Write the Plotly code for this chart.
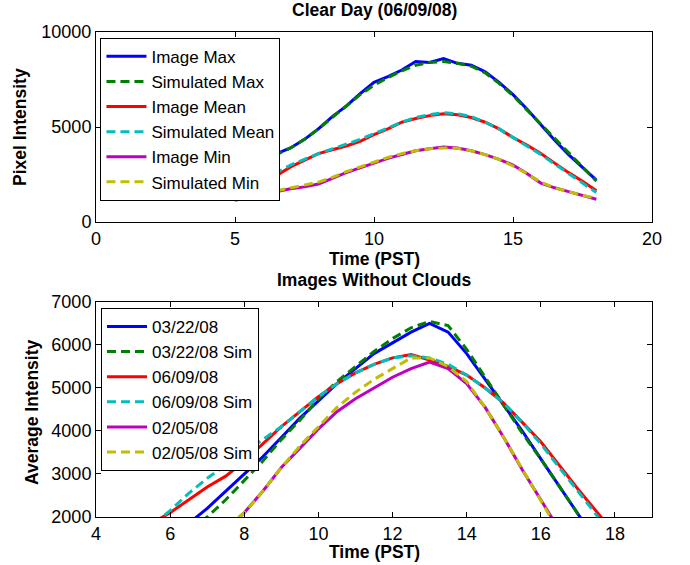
import plotly.graph_objects as go

# ---------- Top chart: Clear Day (06/09/08) ----------
t_top = [5, 5.5, 6, 6.5, 7, 7.5, 8, 8.5, 9, 9.5, 10, 10.5, 11, 11.5, 12, 12.5,
         13, 13.5, 14, 14.5, 15, 15.5, 16, 16.5, 17, 17.5, 18]
img_max = [2700, 3000, 3300, 3600, 3900, 4350, 4900, 5550, 6100, 6750, 7350, 7650,
           8000, 8450, 8400, 8600, 8350, 8250, 7900, 7350, 6700, 5950, 5100, 4300,
           3550, 2900, 2200]
sim_max = [2650, 2950, 3250, 3550, 3900, 4350, 4900, 5500, 6100, 6700, 7200, 7600,
           7950, 8250, 8400, 8450, 8350, 8200, 7850, 7300, 6650, 5900, 5100, 4350,
           3600, 2900, 2150]
img_mean = [1550, 1800, 2100, 2450, 2900, 3250, 3600, 3800, 4000, 4250, 4600, 4900,
            5250, 5450, 5600, 5700, 5650, 5500, 5250, 4900, 4450, 4050, 3600, 3100,
            2600, 2150, 1650]
sim_mean = [1700, 1950, 2250, 2600, 3000, 3300, 3600, 3850, 4100, 4350, 4650, 4950,
            5250, 5500, 5650, 5750, 5700, 5550, 5250, 4900, 4450, 4000, 3550, 3050,
            2550, 2050, 1550]
img_min = [1150, 1300, 1450, 1600, 1750, 1850, 2000, 2300, 2600, 2850, 3100, 3350,
           3550, 3750, 3850, 3950, 3900, 3750, 3550, 3300, 3000, 2550, 2050, 1800,
           1600, 1400, 1200]
sim_min = [1300, 1400, 1500, 1650, 1800, 1950, 2100, 2350, 2650, 2900, 3150, 3400,
           3600, 3750, 3850, 3900, 3880, 3750, 3550, 3300, 2950, 2550, 2100, 1800,
           1600, 1400, 1250]
top_xticks = [0, 5, 10, 15, 20]
top_yticks = [0, 5000, 10000]
top_yticklabels = ["0", "5000", "10000"]

# ---------- Bottom chart: Images Without Clouds ----------
t_bot = [5, 5.5, 6, 6.5, 7, 7.5, 8, 8.5, 9, 9.5, 10, 10.5, 11, 11.5, 12, 12.5,
         13, 13.5, 14, 14.5, 15, 15.5, 16, 16.5, 17, 17.5, 18]
d0322 = [900, 1250, 1550, 1850, 2200, 2600, 3000, 3400, 3850, 4300, 4700, 5100,
         5450, 5800, 6050, 6300, 6500, 6300, 5800, 5200, 4600, 4000, 3350, 2700,
         2050, 1400, 800]
d0322_sim = [750, 1100, 1400, 1700, 2000, 2400, 2850, 3300, 3800, 4250, 4750, 5150,
             5500, 5850, 6150, 6400, 6550, 6450, 5900, 5250, 4600, 3950, 3350, 2700,
             2050, 1400, 800]
d0609 = [1450, 1850, 2100, 2400, 2700, 2950, 3300, 3700, 4100, 4450, 4800, 5100,
         5350, 5550, 5700, 5780, 5650, 5500, 5300, 5000, 4650, 4200, 3750, 3200,
         2650, 2130, 1600]
d0609_sim = [1400, 1800, 2150, 2550, 2900, 3200, 3500, 3800, 4100, 4450, 4800, 5100,
             5350, 5550, 5700, 5750, 5700, 5550, 5300, 5000, 4650, 4200, 3700, 3150,
             2600, 2050, 1500]
d0205 = [None, None, None, None, 1300, 1700, 2100, 2600, 3150, 3600, 4050, 4450,
         4750, 5000, 5250, 5450, 5600, 5450, 5100, 4550, 3850, 3100, 2400, 1700,
         1100, None, None]
d0205_sim = [None, None, None, None, 1350, 1750, 2100, 2600, 3150, 3650, 4100, 4550,
             4900, 5200, 5450, 5700, 5700, 5500, 5150, 4550, 3850, 3100, 2350, 1650,
             1050, None, None]
bot_xticks = [4, 6, 8, 10, 12, 14, 16, 18]
bot_yticks = [2000, 3000, 4000, 5000, 6000, 7000]

BLUE, GREEN, RED = "#0000FF", "#008000", "#FF0000"
CYAN, MAG, YEL = "#00BFBF", "#BF00BF", "#BFBF00"
DASH = "9px,5px"
FONT = "Liberation Sans, Arial, sans-serif"

fig = go.Figure()

top = [
    ("Image Max", img_max, BLUE, "solid"),
    ("Simulated Max", sim_max, GREEN, DASH),
    ("Image Mean", img_mean, RED, "solid"),
    ("Simulated Mean", sim_mean, CYAN, DASH),
    ("Image Min", img_min, MAG, "solid"),
    ("Simulated Min", sim_min, YEL, DASH),
]
for name, ys, col, dash in top:
    fig.add_trace(go.Scatter(x=t_top, y=ys, mode="lines", name=name,
                             line=dict(color=col, width=3, dash=dash),
                             xaxis="x", yaxis="y", legend="legend"))

bot = [
    ("03/22/08", d0322, BLUE, "solid"),
    ("03/22/08 Sim", d0322_sim, GREEN, DASH),
    ("06/09/08", d0609, RED, "solid"),
    ("06/09/08 Sim", d0609_sim, CYAN, DASH),
    ("02/05/08", d0205, MAG, "solid"),
    ("02/05/08 Sim", d0205_sim, YEL, DASH),
]
for name, ys, col, dash in bot:
    fig.add_trace(go.Scatter(x=t_bot, y=ys, mode="lines", name=name,
                             line=dict(color=col, width=3, dash=dash),
                             xaxis="x2", yaxis="y2", legend="legend2"))

axis_common = dict(showline=True, linecolor="black", linewidth=1, mirror="ticks",
                   ticks="inside", ticklen=5, tickcolor="black", showgrid=False,
                   zeroline=False, automargin=False,
                   tickfont=dict(family=FONT, size=18, color="black"))

top_dom = [0.6082, 1.0]
bot_dom = [0.0, 0.4433]

fig.update_layout(
    width=690, height=565,
    margin=dict(l=96, r=38, t=32, b=48),
    paper_bgcolor="white", plot_bgcolor="white",
    font=dict(family=FONT, color="black"),
    xaxis=dict(domain=[0, 1], range=[0, 20], tickvals=top_xticks,
               anchor="y", **axis_common),
    yaxis=dict(domain=top_dom, range=[0, 10000], tickvals=top_yticks,
               ticktext=top_yticklabels, anchor="x", **axis_common),
    xaxis2=dict(domain=[0, 1], range=[4, 19], tickvals=bot_xticks,
                anchor="y2", **axis_common),
    yaxis2=dict(domain=bot_dom, range=[2000, 7000], tickvals=bot_yticks,
                anchor="x2", **axis_common),
    legend=dict(x=0.008, y=0.988, xanchor="left", yanchor="top",
                bgcolor="white", bordercolor="black", borderwidth=1,
                font=dict(family=FONT, size=17, color="black"),
                tracegroupgap=0, itemwidth=40),
    legend2=dict(x=0.009, y=0.431, xanchor="left", yanchor="top",
                 bgcolor="white", bordercolor="black", borderwidth=1,
                 font=dict(family=FONT, size=17, color="black"),
                 tracegroupgap=0, itemwidth=40),
    showlegend=True,
)

bold = dict(family=FONT, size=17.5, color="black")
annots = [
    ("<b>Clear Day (06/09/08)</b>", 10),
    ("<b>Images Without Clouds</b>", 280),
    ("<b>Time (PST)</b>", 259),
    ("<b>Time (PST)</b>", 552),
]
for text, ypx in annots:
    fig.add_annotation(text=text, xref="paper", yref="paper", x=0.5,
                       y=(517 - ypx) / 485, showarrow=False, font=bold,
                       xanchor="center", yanchor="middle")
fig.add_annotation(text="<b>Pixel Intensity</b>", xref="paper", yref="paper",
                   x=(20 - 96) / 556, y=(517 - 127) / 485, showarrow=False,
                   font=bold, textangle=-90, xanchor="center", yanchor="middle")
fig.add_annotation(text="<b>Average Intensity</b>", xref="paper", yref="paper",
                   x=(32 - 96) / 556, y=(517 - 412) / 485, showarrow=False,
                   font=bold, textangle=-90, xanchor="center", yanchor="middle")

fig.write_html("out.html",
               config={"displayModeBar": False, "staticPlot": True},
               post_script="document.body.style.margin='0';"
                           "document.body.style.overflow='hidden';")
